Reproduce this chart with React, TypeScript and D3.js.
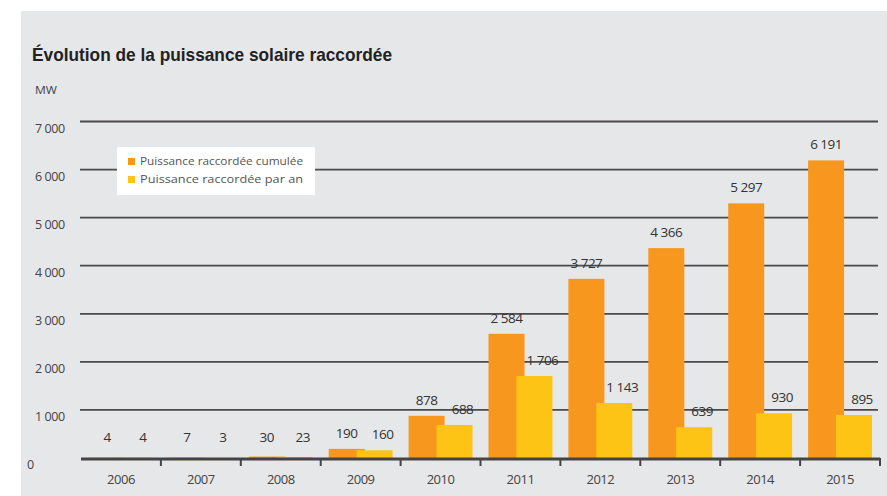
import React from "react";
import * as d3 from "d3";

const years = ["2006", "2007", "2008", "2009", "2010", "2011", "2012", "2013", "2014", "2015"];
const cumulative = [4, 7, 30, 190, 878, 2584, 3727, 4366, 5297, 6191];
const perYear = [4, 3, 23, 160, 688, 1706, 1143, 639, 930, 895];
const yTicks = [0, 1000, 2000, 3000, 4000, 5000, 6000, 7000];
const seriesNames = ["Puissance raccordée cumulée", "Puissance raccordée par an"];
const title = "Évolution de la puissance solaire raccordée";
const unit = "MW";

const W = 887;
const H = 496;
const ORANGE = "#f7971d";
const YELLOW = "#fdc315";
const BG = "#e6e7e9";
const FONT = "'Open Sans', 'DejaVu Sans', sans-serif";

const fmt = (v: number) => d3.format(",")(v).replace(/,/g, " ");

export default function App() {
  const x = d3.scaleBand<string>().domain(years).range([81, 880]).padding(0);
  const y = d3.scaleLinear().domain([0, 7000]).range([458, 121.5]);
  const bw = 36;
  const innerOff = 8;

  return (
    <svg width={W} height={H} style={{ position: "absolute", left: 0, top: 0, background: "#fff" }}>
      <rect x={21} y={11} width={W - 21} height={H - 11} fill={BG} />
      <text x={32} y={61} fontFamily="'Liberation Sans', Arial, sans-serif" fontWeight="bold" fontSize={19}
        fill="#222" textLength={360} lengthAdjust="spacingAndGlyphs">{title}</text>
      <text x={35} y={94} fontFamily={FONT} fontSize={11} fill="#444" textLength={22} lengthAdjust="spacingAndGlyphs">{unit}</text>

      {yTicks.map((t) => (
        <g key={t}>
          {t > 0 && <line x1={80} x2={878} y1={y(t)} y2={y(t)} stroke="#4a4a4a" strokeWidth={1.8} />}
          <text x={t === 0 ? 27 : 35} y={y(t) + 11} fontFamily={FONT} fontSize={12.5} fill="#444"
            letterSpacing={-0.4}>{fmt(t)}</text>
        </g>
      ))}

      {years.map((yr, i) => {
        const bx = x(yr)!;
        const ox = bx + innerOff;
        const yx = bx + x.bandwidth() - innerOff - bw;
        return (
          <g key={yr}>
            <rect x={ox} y={y(cumulative[i])} width={bw} height={y(0) - y(cumulative[i])} fill={ORANGE} />
            <rect x={yx} y={y(perYear[i])} width={bw} height={y(0) - y(perYear[i])} fill={YELLOW} />
          </g>
        );
      })}

      <line x1={81} x2={880} y1={y(0) + 1} y2={y(0) + 1} stroke="#444" strokeWidth={3} />
      {years.map((yr) => (
        <line key={yr} x1={x(yr)! + x.bandwidth()} x2={x(yr)! + x.bandwidth()} y1={y(0)} y2={y(0) + 8}
          stroke="#444" strokeWidth={2} />
      ))}
      {years.map((yr) => (
        <text key={yr} x={x(yr)! + x.bandwidth() / 2} y={484} textAnchor="middle" fontFamily={FONT}
          fontSize={13} fill="#444" letterSpacing={-0.5}>{yr}</text>
      ))}

      {years.map((yr, i) => {
        const bx = x(yr)!;
        const ox = bx + innerOff + bw / 2;
        const yx = bx + x.bandwidth() - innerOff - bw / 2 + 8;
        return (
          <g key={yr} fontFamily={FONT} fontSize={13.5} fill="#333" textAnchor="middle" letterSpacing={-0.5}>
            <text x={ox} y={Math.min(y(cumulative[i]) - 11, 442)}>{fmt(cumulative[i])}</text>
            <text x={yx} y={Math.min(y(perYear[i]) - 11, 442)}>{fmt(perYear[i])}</text>
          </g>
        );
      })}

      <rect x={117} y={147} width={198} height={48} fill="#fff" />
      {seriesNames.map((s, i) => (
        <g key={s}>
          <rect x={128} y={158 + i * 18} width={7} height={7} fill={i === 0 ? ORANGE : YELLOW} />
          <text x={140} y={165 + i * 18} fontFamily={FONT} fontSize={11} fill="#555"
            textLength={163} lengthAdjust="spacingAndGlyphs">{s}</text>
        </g>
      ))}
    </svg>
  );
}
